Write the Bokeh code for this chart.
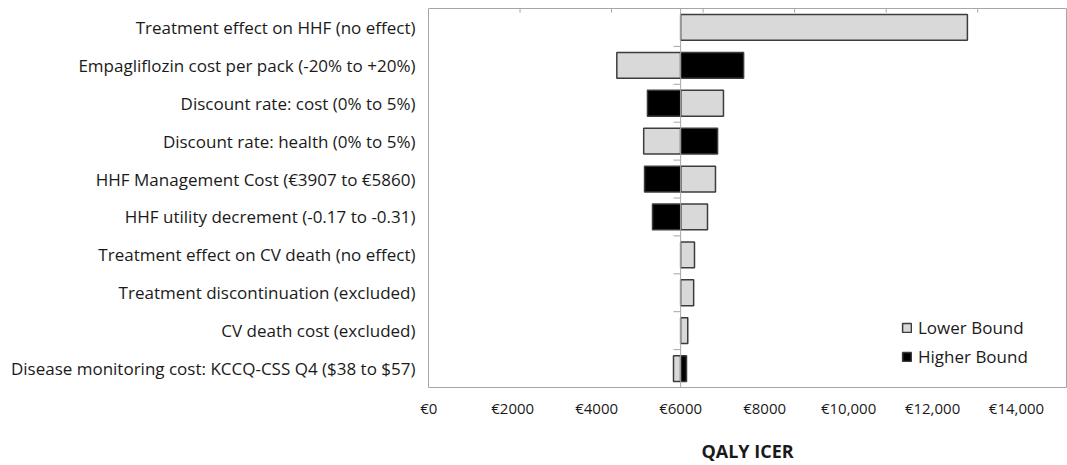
from bokeh.plotting import figure
from bokeh.models import Range1d, FixedTicker, Span
from bokeh.embed import file_html
from bokeh.resources import INLINE

# ---------------- data ----------------
parameters = [
    "Treatment effect on HHF (no effect)",
    "Empagliflozin cost per pack (-20% to +20%)",
    "Discount rate: cost (0% to 5%)",
    "Discount rate: health (0% to 5%)",
    "HHF Management Cost (€3907 to €5860)",
    "HHF utility decrement (-0.17 to -0.31)",
    "Treatment effect on CV death (no effect)",
    "Treatment discontinuation (excluded)",
    "CV death cost (excluded)",
    "Disease monitoring cost: KCCQ-CSS Q4 ($38 to $57)",
]
base_icer = 6000
lower_bound = [12830, 4480, 7020, 5120, 6830, 6640, 6330, 6310, 6170, 5830]
higher_bound = [6000, 7500, 5210, 6880, 5140, 5330, 6000, 6000, 6000, 6140]
x_ticks = [0, 2000, 4000, 6000, 8000, 10000, 12000, 14000]
x_tick_labels = ["€0", "€2000", "€4000", "€6000", "€8000", "€10,000", "€12,000", "€14,000"]
axis_title = "QALY ICER"
legend_labels = ["Lower Bound", "Higher Bound"]

# ---------------- styling ----------------
FONT = "Open Sans"
TEXT = "#1a1a1a"
FRAME = "#a6a6a6"
GRAY = "#d9d9d9"
EDGE = "#3c3c3c"

n = len(parameters)
ys = [n - 1 - i for i in range(n)]

p = figure(
    width=1067, height=465,
    output_backend="svg", toolbar_location=None,
    x_range=Range1d(-5, 15190), y_range=Range1d(-0.5, n - 0.5),
    min_border_left=428, min_border_right=1, min_border_top=8, min_border_bottom=76,
)
p.outline_line_color = FRAME
p.outline_line_width = 1
p.xgrid.visible = False
p.ygrid.visible = False

# centre line at base case
p.add_layout(Span(location=base_icer, dimension="height", line_color=FRAME, line_width=1))
# small category ticks on centre line
bounds = [y + 0.5 for y in range(n - 1)]
p.segment(x0=[base_icer - 170] * len(bounds), x1=[base_icer] * len(bounds),
          y0=bounds, y1=bounds, line_color=FRAME, line_width=1)

# inward ticks along the top border (secondary, unlabeled scale)
p.extra_x_ranges = {"top": Range1d(0, 6.97)}
top_ticks = list(range(1, 7))
p.segment(x0=top_ticks, x1=top_ticks, y0=[n - 0.5] * len(top_ticks),
          y1=[n - 0.5 - 0.11] * len(top_ticks), x_range_name="top",
          line_color=FRAME, line_width=1)

# lower bound bars
p.hbar(y=ys,
       left=[min(base_icer, v) for v in lower_bound],
       right=[max(base_icer, v) for v in lower_bound],
       height=0.68, fill_color=GRAY, line_color=EDGE, line_width=1.5,
       legend_label=legend_labels[0])

# higher bound bars
idx = [i for i, v in enumerate(higher_bound) if v != base_icer]
p.hbar(y=[ys[i] for i in idx],
       left=[min(base_icer, higher_bound[i]) for i in idx],
       right=[max(base_icer, higher_bound[i]) for i in idx],
       height=0.68, fill_color="#000000", line_color=EDGE, line_width=1.5,
       legend_label=legend_labels[1])

# y axis (category labels)
yax = p.yaxis[0]
yax.ticker = FixedTicker(ticks=ys)
yax.major_label_overrides = {y: lab for y, lab in zip(ys, parameters)}
yax.axis_line_color = None
yax.major_tick_line_color = None
yax.major_tick_out = 0
yax.major_tick_in = 0
yax.minor_tick_line_color = None
yax.major_label_standoff = 13
yax.major_label_text_font = FONT
yax.major_label_text_font_size = "17px"
yax.major_label_text_color = TEXT

# bottom x axis
xax = p.xaxis[0]
xax.ticker = FixedTicker(ticks=x_ticks)
xax.major_label_overrides = {t: lab for t, lab in zip(x_ticks, x_tick_labels)}
xax.axis_line_color = None
xax.major_tick_line_color = None
xax.major_tick_out = 0
xax.major_tick_in = 0
xax.minor_tick_line_color = None
xax.major_label_standoff = 10
xax.major_label_text_font = FONT
xax.major_label_text_font_size = "15px"
xax.major_label_text_color = TEXT
xax.axis_label = axis_title
xax.axis_label_text_font = FONT
xax.axis_label_text_font_size = "18px"
xax.axis_label_text_font_style = "bold"
xax.axis_label_text_color = TEXT
xax.axis_label_standoff = 18

# legend
leg = p.legend[0]
leg.location = (473, 19)
leg.padding = 0
leg.margin = 0
leg.spacing = 6
leg.border_line_color = None
leg.background_fill_alpha = 0
leg.glyph_width = 11
leg.glyph_height = 11
leg.label_standoff = 6
leg.label_height = 20
leg.label_text_font = FONT
leg.label_text_font_size = "17px"
leg.label_text_color = TEXT

open("out.html", "w").write(file_html(p, INLINE))
